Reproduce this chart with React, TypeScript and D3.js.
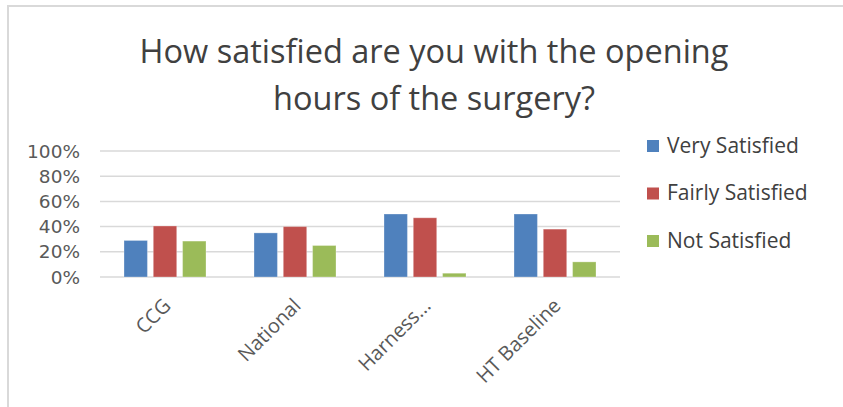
import React from "react";
import * as d3 from "d3";

const categories = ["CCG", "National", "Harness...", "HT Baseline"];
const seriesNames = ["Very Satisfied", "Fairly Satisfied", "Not Satisfied"];
const verySatisfied = [29, 35, 50, 50];
const fairlySatisfied = [40.5, 40, 47, 38];
const notSatisfied = [28.5, 25, 3, 12];
const yTicks = [0, 20, 40, 60, 80, 100];
const colors = ["#4f81bd", "#c0504d", "#9bbb59"];
const titleLines = ["How satisfied are you with the opening", "hours of the surgery?"];

const W = 843;
const H = 407;
const FONT = "'Open Sans', sans-serif";

export default function App() {
  const series = [verySatisfied, fairlySatisfied, notSatisfied];
  const x = d3.scaleBand<string>().domain(categories).range([100, 620]).paddingInner(0).paddingOuter(0);
  const y = d3.scaleLinear().domain([0, 100]).range([277, 151]);
  const inner = d3.scaleBand<string>().domain(seriesNames).range([-41, 41]).paddingInner(0.2);

  return (
    <svg width={W} height={H} style={{ position: "absolute", left: 0, top: 0, background: "#fff" }} fontFamily={FONT}>
      <rect x={8} y={6} width={W} height={H} fill="#fff" stroke="#d9d9d9" strokeWidth={2} />
      {titleLines.map((t, i) => (
        <text key={t} x={434} y={63 + i * 47} textAnchor="middle" fontSize={32.5} fill="#404040">{t}</text>
      ))}
      {yTicks.map((t) => (
        <g key={t}>
          <line x1={100} x2={620} y1={y(t)} y2={y(t)} stroke="#d9d9d9" strokeWidth={1.5} />
          <text x={80} y={y(t)} dy="0.36em" textAnchor="end" fontSize={18.5} fontFamily="'DejaVu Sans', sans-serif" fill="#595959">{t}%</text>
        </g>
      ))}
      {categories.map((c, ci) => (
        <g key={c}>
          {series.map((s, si) => {
            const bx = (x(c) as number) + x.bandwidth() / 2 + (inner(seriesNames[si]) as number);
            return (
              <rect key={si} x={bx} y={y(s[ci])} width={inner.bandwidth()} height={y(0) - y(s[ci])} fill={colors[si]} stroke="#fff" strokeOpacity={0.3} strokeWidth={1} />
            );
          })}
          <text
            transform={`translate(${(x(c) as number) + x.bandwidth() / 2 + 7},${307}) rotate(-45)`}
            textAnchor="end"
            fontSize={20}
            fill="#595959"
          >{c}</text>
        </g>
      ))}
      {seriesNames.map((n, i) => (
        <g key={n} transform={`translate(647,${140 + i * 47.5})`}>
          <rect x={0} y={0} width={12} height={12} fill={colors[i]} />
          <text x={20} y={12.5} fontSize={21} fill="#404040">{n}</text>
        </g>
      ))}
    </svg>
  );
}
